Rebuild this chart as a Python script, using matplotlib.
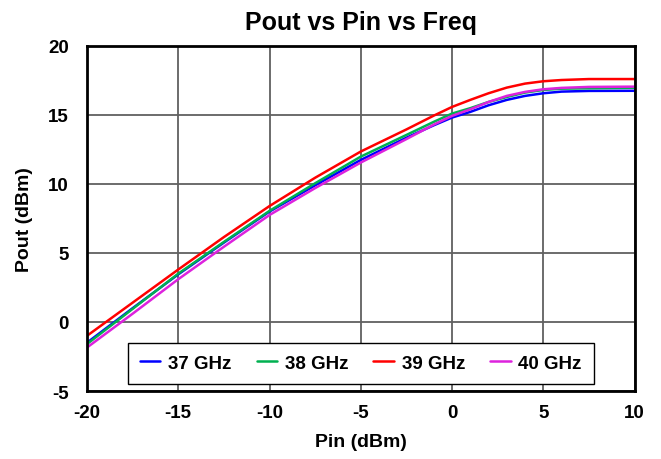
import matplotlib
matplotlib.use("Agg")
import matplotlib.pyplot as plt

plt.rcParams['font.family'] = ['Liberation Sans', 'DejaVu Sans']
plt.rcParams['axes.unicode_minus'] = False

pin = [-20, -17.5, -15, -12.5, -10, -7.5, -5, -2.5, -1, 0, 1, 2, 3, 4, 5, 6, 7.5, 10]
pout_37 = [-1.5, 1.0, 3.45, 5.75, 8.0, 9.9, 11.74, 13.35, 14.25, 14.81, 15.22, 15.7, 16.09, 16.38, 16.57, 16.69, 16.74, 16.75]
pout_38 = [-1.6, 0.95, 3.5, 5.8, 8.05, 10.05, 11.98, 13.55, 14.5, 15.1, 15.49, 15.94, 16.3, 16.62, 16.81, 16.9, 16.93, 16.97]
pout_39 = [-1.0, 1.4, 3.8, 6.15, 8.4, 10.45, 12.35, 13.95, 14.95, 15.58, 16.09, 16.57, 16.98, 17.27, 17.44, 17.53, 17.6, 17.6]
pout_40 = [-1.85, 0.6, 3.1, 5.45, 7.75, 9.7, 11.55, 13.25, 14.3, 14.93, 15.41, 15.94, 16.38, 16.67, 16.86, 16.96, 17.03, 17.05]

series = [
    ("37 GHz", pout_37, "#0000FF"),
    ("38 GHz", pout_38, "#00B050"),
    ("39 GHz", pout_39, "#FF0000"),
    ("40 GHz", pout_40, "#DD22DD"),
]

fig = plt.figure(figsize=(6.61, 4.60), dpi=100)
ax = fig.add_axes([0.1316, 0.1478, 0.8284, 0.7502])

for label, vals, col in series:
    ax.plot(pin, vals, color=col, lw=1.8, label=label, solid_capstyle='round',
            solid_joinstyle='round')

ax.set_xlim(-20, 10)
ax.set_ylim(-5, 20)
ax.set_xticks(range(-20, 11, 5))
ax.set_yticks(range(-5, 21, 5))
ax.grid(True, color="#606060", lw=1.3)
ax.set_axisbelow(True)
for s in ax.spines.values():
    s.set_linewidth(2)
    s.set_color("black")
ax.tick_params(axis='y', length=0, pad=13, labelsize=13.5)
ax.tick_params(axis='x', length=0, pad=9, labelsize=13.5)
for t in ax.get_xticklabels() + ax.get_yticklabels():
    t.set_fontweight('bold')

ax.set_title("Pout vs Pin vs Freq", fontsize=18, fontweight='bold', pad=12)
ax.set_xlabel("Pin (dBm)", fontsize=14, fontweight='bold', labelpad=9)
ax.set_ylabel("Pout (dBm)", fontsize=14, fontweight='bold', labelpad=11)

leg = ax.legend(loc='lower center', bbox_to_anchor=(0.5, 0.02), ncol=4,
                frameon=True, fancybox=False, edgecolor='black',
                prop={'weight': 'bold', 'size': 13.5},
                handlelength=1.1, handletextpad=0.4, columnspacing=1.35,
                borderpad=0.65, borderaxespad=0)
leg.get_frame().set_linewidth(1.0)
leg.get_frame().set_alpha(1)

fig.savefig("out.png", dpi=100)
